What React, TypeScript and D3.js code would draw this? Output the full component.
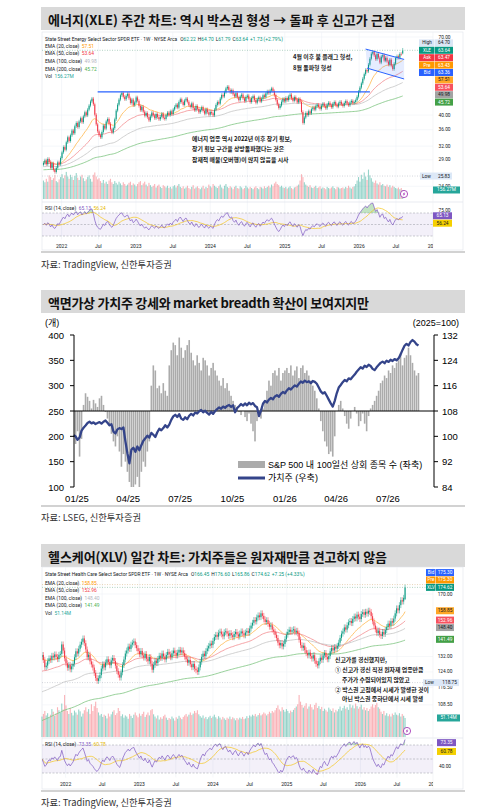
import React from "react";
import * as d3 from "d3";

// ================= Panel 1: XLE weekly =================
const xleClose = [
  28.4, 28.9, 28.1, 29.2, 28.6, 27.4, 28.3, 27.0, 26.6, 27.4,
  28.5, 28.1, 29.4, 30.6, 31.8, 31.2, 32.9, 34.1, 33.2, 34.6,
  35.8, 35.1, 36.9, 37.8, 36.7, 38.2, 39.1, 38.0, 39.6, 40.8,
  39.9, 41.6, 42.8, 44.1, 45.0, 43.2, 40.1, 37.4, 35.6, 34.6,
  34.1, 35.4, 37.1, 36.3, 38.2, 38.9, 37.6, 36.1, 35.3, 36.4,
  38.8, 41.3, 43.1, 44.7, 46.1, 46.9, 45.6, 44.8, 45.9, 46.6,
  45.1, 43.6, 44.7, 42.9, 43.8, 45.4, 44.3, 42.7, 41.4, 42.5,
  41.0, 39.8, 40.6, 39.4, 38.5, 39.6, 40.7, 39.9, 39.1, 40.3,
  39.4, 38.8, 39.5, 40.4, 39.2, 38.9, 39.9, 40.7, 40.0, 41.1,
  40.3, 41.6, 42.4, 43.1, 42.2, 43.9, 44.8, 43.9, 43.0, 44.4,
  45.0, 44.0, 42.9, 42.4, 43.5, 42.0, 41.4, 42.7, 41.8, 40.8,
  41.5, 42.3, 41.2, 40.4, 41.7, 40.8, 40.1, 40.9, 40.5, 39.9,
  41.6, 43.0, 43.9, 43.4, 45.0, 46.2, 45.7, 47.1, 48.4, 49.0,
  47.9, 47.1, 47.8, 46.4, 45.7, 46.8, 45.4, 44.5, 45.7, 46.3,
  45.1, 44.2, 45.5, 46.0, 44.8, 43.9, 45.2, 45.8, 44.5, 43.7,
  44.8, 45.4, 44.1, 45.0, 46.1, 45.5, 46.7, 47.4, 46.8, 47.7,
  48.4, 47.5, 46.1, 44.6, 43.2, 42.1, 42.8, 44.0, 44.9, 44.1,
  45.2, 44.5, 45.7, 46.3, 45.1, 44.3, 45.5, 44.7, 43.8, 44.9,
  44.0, 40.9, 37.8, 39.3, 40.6, 40.0, 41.1, 40.5, 41.7, 42.2,
  41.6, 42.6, 43.1, 42.4, 41.8, 42.8, 43.4, 42.6, 42.0, 43.1,
  43.7, 42.9, 42.3, 43.4, 43.9, 43.0, 42.5, 43.5, 44.0, 43.2,
  42.7, 43.6, 44.2, 43.4, 42.9, 43.8, 44.3, 43.6, 43.9, 44.5,
  45.6, 47.3, 48.7, 50.2, 51.9, 53.6, 55.3, 54.7, 57.4, 59.9,
  62.1, 62.9, 61.4, 59.7, 62.0, 60.4, 58.3, 60.8, 61.5, 59.1,
  60.3, 58.7, 57.4, 59.5, 57.0, 55.6, 57.8, 60.2, 61.0, 60.3,
  62.0, 61.9, 63.64,
];
const xleVolume = [
  320, 290, 350, 300, 410, 380, 330, 360, 420, 310,
  290, 340, 380, 430, 360, 410, 470, 390, 350, 420,
  380, 330, 400, 450, 370, 330, 390, 420, 360, 310,
  340, 380, 410, 350, 300, 420, 460, 390, 340, 360,
  310, 280, 330, 270, 300, 260, 320, 350, 290, 260,
  310, 280, 250, 300, 270, 240, 290, 260, 230, 250,
  280, 300, 240, 270, 250, 220, 260, 290, 310, 240,
  270, 300, 250, 220, 280, 240, 210, 230, 260, 200,
  230, 250, 210, 190, 240, 220, 200, 230, 190, 210,
  180, 220, 240, 200, 230, 260, 210, 190, 220, 180,
  200, 230, 190, 170, 210, 240, 180, 200, 220, 190,
  170, 200, 230, 180, 210, 190, 250, 220, 200, 260,
  230, 210, 190, 220, 250, 200, 180, 230, 260, 210,
  190, 220, 200, 170, 210, 230, 190, 180, 220, 200,
  170, 190, 230, 200, 180, 210, 190, 170, 200, 220,
  190, 170, 210, 200, 180, 220, 190, 210, 230, 200,
  250, 220, 270, 300, 260, 240, 210, 230, 200, 190,
  210, 180, 200, 220, 190, 170, 200, 210, 230, 250,
  320, 430, 380, 290, 250, 230, 210, 240, 200, 190,
  210, 230, 190, 200, 220, 180, 200, 190, 170, 210,
  190, 180, 200, 220, 190, 170, 210, 200, 180, 190,
  200, 180, 210, 190, 230, 200, 180, 210, 220, 260,
  320, 380, 300, 420, 350, 460, 390, 330, 510, 410,
  360, 300, 280, 320, 270, 250, 290, 240, 260, 230,
  220, 250, 210, 240, 200, 230, 210, 190, 180, 200,
  170, 190, 156.27,
];
const xleOpen0 = [28.0];
const xleLastOHLC = [62.22, 64.7, 61.79, 63.64];
const xleChange = [1.73, 2.79];
const xleEmaSeed = [28.6, 28.2, 27.6, 27.0];
const xleEmaLast = [57.51, 53.64, 49.98, 45.72];
const xleQuoteNames = ["High", "XLE", "Ask", "Pre", "Bid"];
const xleQuoteValues = [64.7, 63.64, 63.47, 63.43, 63.36];
const xleLow = [25.83];
const xleVolLast = [156.27];
const xleRsiLast = [65.13, 56.24];
const xlePriceTicks = [70, 40, 36, 32, 29, 24];
const xleRsiTicks = [75];
const xleBoxLine: [string, number][] = [["2022-06-27", 47.2], ["2026-02-23", 47.2]];
const xleFlagUpper: [string, number][] = [["2026-02-02", 64.2], ["2026-08-10", 59.6]];
const xleFlagLower: [string, number][] = [["2026-02-09", 56.0], ["2026-08-10", 51.8]];

// ================= Panel 2: breadth vs value =================
const breadthCount = [
  200, 185, 210, 160, 195, 262, 285, 278, 270, 255,
  272, 265, 258, 275, 280, 262, 248, 235, 220, 205,
  190, 180, 200, 170, 140, 165, 150, 130, 110, 100,
  100, 105, 120, 100, 130, 150, 140, 170, 190, 300,
  340, 330, 295, 300, 285, 305, 290, 280, 340, 370,
  385, 380, 360, 395, 375, 355, 370, 380, 390, 365,
  350, 340, 360, 345, 330, 355, 350, 340, 320, 335,
  345, 330, 320, 310, 300, 315, 295, 305, 290, 280,
  270, 262, 255, 248, 242, 250, 238, 230, 245, 225,
  210, 190, 230, 240, 235, 255, 270, 290, 310, 300,
  325, 330, 320, 335, 310, 325, 330, 335, 325, 340,
  320, 330, 338, 315, 335, 340, 325, 330, 320, 310,
  300, 290, 275, 255, 230, 210, 190, 180, 165, 170,
  160, 200, 250, 262, 270, 255, 240, 225, 215, 235,
  250, 258, 245, 220, 230, 245, 225, 210, 240, 255,
  262, 270, 280, 290, 305, 310, 320, 315, 330, 325,
  340, 335, 345, 350, 365, 340, 355, 360, 375, 360,
  345, 330, 320, 325,
];
const valueIndex = [
  100.3, 100.0, 98.9, 99.6, 101.8, 102.7, 103.4, 104.2, 104.6, 104.1,
  104.4, 103.9, 104.2, 104.5, 104.0, 104.6, 105.0, 104.3, 103.5, 103.8,
  101.5, 100.9, 102.2, 102.6, 102.3, 102.8, 98.4, 94.6, 91.5, 95.8,
  96.4, 95.1, 96.8, 95.6, 97.2, 98.6, 99.4, 100.2, 99.6, 101.1,
  100.5, 99.8, 101.3, 102.4, 101.9, 102.6, 103.5, 102.8, 103.7, 105.2,
  106.3, 106.8, 106.1, 107.0, 105.6, 105.2, 106.0, 105.4, 106.5, 107.1,
  106.6, 107.5, 107.2, 107.9, 108.3, 107.6, 108.1, 107.4, 106.9, 107.7,
  107.1, 108.0, 108.6, 109.1, 108.7, 109.4, 109.0, 109.6, 109.9, 109.3,
  109.8, 107.6, 108.9, 109.5, 110.2, 109.7, 110.4, 109.8, 110.6, 110.1,
  110.5, 109.6, 109.2, 106.4, 108.1, 110.3, 111.2, 110.7, 111.6, 112.1,
  111.7, 112.6, 113.0, 112.5, 113.4, 114.0, 113.6, 114.5, 115.2, 114.8,
  115.5, 116.1, 115.7, 116.6, 117.3, 116.9, 117.6, 117.1, 117.4, 116.8,
  117.5, 117.2, 116.6, 115.4, 114.2, 113.5, 113.9, 112.8, 111.6, 110.4,
  109.4, 111.2, 113.6, 115.4, 116.2, 117.1, 117.8, 117.4, 118.3, 118.0,
  118.8, 119.5, 120.4, 121.1, 121.8, 121.4, 122.3, 121.9, 122.6, 122.2,
  121.3, 120.9, 121.8, 122.5, 123.2, 123.6, 123.1, 123.9, 123.5, 124.2,
  123.8, 124.4, 124.0, 124.6, 125.8, 127.3, 128.6, 129.2, 128.7, 129.8,
  130.4, 129.9, 129.1, 128.7,
];
const breadthTicksL = [100, 150, 200, 250, 300, 350, 400];
const breadthTicksR = [84, 92, 100, 108, 116, 124, 132];

// ================= Panel 3: XLV weekly =================
const xlvClose = [
  132.8, 130.1, 126.4, 127.2, 129.5, 131.0, 130.2, 132.4, 131.5, 133.1,
  131.8, 130.6, 132.9, 133.4, 138.6, 135.2, 131.0, 128.4, 126.1, 127.5,
  125.3, 126.8, 128.2, 131.6, 134.8, 133.6, 136.2, 138.5, 140.1, 142.0,
  139.3, 135.8, 131.6, 133.0, 129.4, 127.8, 126.2, 123.5, 121.0, 119.6,
  120.8, 122.4, 125.7, 127.9, 126.3, 128.8, 130.5, 129.1, 127.4, 129.9,
  131.2, 129.6, 127.2, 124.4, 122.6, 121.2, 123.8, 127.5, 130.4, 133.6,
  135.2, 137.4, 136.1, 138.5, 139.6, 140.3, 138.2, 136.5, 134.9, 133.2,
  135.0, 132.6, 131.4, 133.3, 130.8, 129.5, 131.7, 128.2, 125.1, 127.6,
  129.8, 128.5, 130.7, 132.4, 131.2, 133.6, 132.0, 130.4, 132.8, 134.5,
  133.1, 131.6, 133.7, 135.2, 133.9, 132.5, 134.1, 135.6, 134.2, 135.3,
  133.8, 131.9, 130.5, 128.7, 130.2, 127.9, 126.4, 128.1, 125.6, 124.8,
  124.0, 126.3, 129.2, 131.8, 133.5, 132.2, 134.9, 136.4, 137.8, 139.1,
  138.2, 140.6, 142.8, 144.1, 143.0, 145.3, 146.0, 144.4, 143.2, 145.6,
  146.2, 144.8, 143.5, 145.1, 143.9, 142.7, 144.6, 145.8, 144.3, 143.1,
  144.9, 146.1, 145.0, 143.8, 145.5, 146.4, 145.2, 147.8, 149.6, 151.3,
  153.0, 152.1, 154.6, 155.9, 154.8, 157.2, 155.6, 153.4, 151.8, 152.9,
  150.7, 148.9, 149.8, 147.2, 146.0, 144.1, 142.3, 139.6, 138.1, 139.4,
  137.5, 138.9, 141.6, 144.2, 145.8, 147.1, 145.9, 146.8, 147.4, 145.6,
  146.5, 144.9, 141.3, 138.2, 136.7, 137.9, 135.4, 133.8, 132.6, 134.1,
  132.2, 130.9, 132.7, 129.8, 128.1, 127.3, 129.5, 131.4, 130.2, 132.6,
  133.9, 131.7, 130.5, 132.2, 134.8, 136.6, 135.3, 137.1, 136.2, 137.8,
  139.6, 142.3, 144.8, 146.1, 148.5, 147.2, 149.8, 151.6, 152.4, 151.1,
  153.7, 155.2, 154.0, 156.4, 155.1, 153.6, 156.8, 157.9, 156.3, 158.2,
  157.0, 158.9, 158.1, 155.4, 152.2, 149.6, 147.3, 145.1, 146.6, 144.2,
  143.4, 145.8, 144.6, 146.9, 148.7, 150.8, 149.5, 152.3, 151.4, 153.9,
  157.2, 160.4, 159.1, 162.5, 165.8, 164.9, 167.4, 174.62,
];
const xlvVolume = [
  55, 62, 70, 58, 64, 52, 60, 75, 68, 57,
  63, 80, 72, 66, 90, 74, 113, 85, 70, 62,
  78, 65, 58, 71, 66, 60, 74, 69, 55, 63,
  72, 80, 68, 75, 62, 88, 70, 83, 95, 78,
  66, 58, 62, 54, 60, 57, 50, 63, 55, 61,
  68, 72, 59, 64, 78, 70, 56, 61, 52, 58,
  55, 49, 62, 57, 51, 60, 66, 58, 53, 63,
  57, 62, 68, 54, 60, 66, 58, 72, 75, 61,
  55, 50, 58, 47, 53, 49, 56, 60, 52, 46,
  51, 48, 55, 50, 44, 53, 49, 57, 52, 48,
  54, 58, 62, 55, 60, 66, 59, 63, 70, 65,
  72, 61, 56, 52, 58, 50, 54, 48, 53, 57,
  51, 55, 60, 53, 49, 56, 52, 47, 54, 50,
  46, 52, 49, 55, 48, 53, 50, 45, 51, 47,
  52, 49, 54, 48, 50, 56, 51, 58, 55, 60,
  57, 62, 55, 59, 64, 58, 61, 66, 63, 58,
  62, 68, 64, 70, 66, 72, 78, 85, 74, 69,
  80, 73, 68, 75, 70, 64, 71, 67, 73, 78,
  82, 88, 113, 95, 86, 79, 84, 91, 76, 82,
  88, 80, 74, 86, 92, 78, 83, 75, 81, 70,
  76, 72, 68, 79, 74, 70, 77, 66, 73, 69,
  75, 82, 71, 78, 84, 76, 80, 73, 88, 79,
  85, 77, 90, 83, 76, 81, 87, 74, 80, 72,
  78, 70, 75, 82, 88, 79, 86, 92, 80, 76,
  68, 62, 70, 58, 64, 56, 61, 55, 63, 59,
  66, 60, 58, 64, 55, 62, 57, 51.14,
];
const xlvOpen0 = [131.5];
const xlvLastOHLC = [166.45, 176.6, 165.86, 174.62];
const xlvChange = [7.25, 4.33];
const xlvEmaSeed = [130.5, 124.0, 114.0, 101.5];
const xlvEmaLast = [158.85, 152.96, 148.4, 141.49];
const xlvQuoteNames = ["Bid", "Pre", "XLV"];
const xlvQuoteValues = [175.3, 175.3, 174.62];
const xlvLow = [118.75];
const xlvVolLast = [51.14];
const xlvRsiLast = [73.35, 60.78];
const xlvPriceTicks = [170, 132, 124, 116.5, 108.5];
const xlvRsiTicks = [40];

// ================= helpers =================
const KR = "'Noto Sans CJK KR', 'Noto Sans', sans-serif";
const TVF = "Roboto, 'Liberation Sans', Arial, sans-serif";
const AR = "'Liberation Sans', Arial, 'Noto Sans CJK KR', sans-serif";
const UP = "#089981";
const DN = "#f23645";
const WICK = 0.012;
const EMA_PERIODS = [20, 50, 100, 200];
const EMA_LINE = ["#ffb74d", "#f28b8f", "#c4c4c4", "#7cc47f"];
const EMA_TEXT = ["#ff9800", "#f23645", "#b2b5be", "#4caf50"];
const EMA_BOX = ["#ffa726", "#f7525f", "#a3a3a3", "#43a047"];
const EMA_BOX_TEXT = ["#131722", "#ffffff", "#131722", "#ffffff"];
const QUOTE_BOX: Record<string, string> = { High: "#dbe6f5", XLE: UP, XLV: UP, Ask: DN, Pre: "#ff9800", Bid: "#2962ff" };

const parse = d3.timeParse("%Y-%m-%d");
const P = (s: string) => parse(s) as Date;

function emaSeries(v: number[], period: number, seed: number) {
  const a = 2 / (period + 1);
  let e = seed;
  return v.map((d) => (e += a * (d - e)));
}
function calcRSI(c: number[], n = 14) {
  const ch = c.slice(1).map((v, i) => v - c[i]);
  const init = (d3.mean(ch.slice(0, n), (d) => Math.abs(d)) as number) / 2;
  let ag = init, al = init;
  const out = [50];
  ch.forEach((d) => {
    ag = (ag * (n - 1) + Math.max(d, 0)) / n;
    al = (al * (n - 1) + Math.max(-d, 0)) / n;
    out.push(100 - 100 / (1 + ag / al));
  });
  return out;
}
function sma(a: number[], n: number) {
  return a.map((_, i) => d3.mean(a.slice(Math.max(0, i - n + 1), i + 1)) as number);
}
function stackTags(ideal: number[], anchor: number, h: number) {
  const out = ideal.slice();
  for (let i = anchor - 1; i >= 0; i--) out[i] = Math.min(ideal[i], out[i + 1] - h);
  for (let i = anchor + 1; i < ideal.length; i++) out[i] = Math.max(ideal[i], out[i - 1] + h);
  return out;
}

function Bolt({ cx, cy }: { cx: number; cy: number }) {
  return (
    <g transform={`translate(${cx},${cy})`}>
      <circle r={3.6} fill="#fff" stroke="#9c27b0" strokeWidth={0.8} />
      <path d="M0.6,-2.3 L-1.3,0.4 L0,0.4 L-0.6,2.3 L1.3,-0.4 L0,-0.4 Z" fill="#9c27b0" />
    </g>
  );
}

function TVChart(p: any) {
  const n = p.closes.length;
  const endD = P(p.end);
  const dates = d3.range(n).map((i) => d3.timeDay.offset(endD, -7 * (n - 1 - i)));
  const x = d3.scaleTime().domain([P(p.cal[0]), P(p.cal[2])]).range([p.cal[1], p.cal[3]]);
  const y = d3.scaleLog().domain(p.pDom).range(p.pRange);
  const yv = d3.scaleLinear().domain([0, p.volMax]).range([p.volBase, p.volBase - p.volH]);
  const yr = d3.scaleLinear().domain([30, 70]).range([p.rsi30, p.rsi70]);
  const [fx0, fy0, fx1, fy1] = p.frame;
  const plotR = p.plotR;

  const candles = p.closes.map((c: number, i: number) => {
    if (i === n - 1) return { o: p.ohlc[0], h: p.ohlc[1], l: p.ohlc[2], c: p.ohlc[3] };
    const o = i === 0 ? p.open0[0] : p.closes[i - 1];
    return { o, c, h: Math.max(o, c) * (1 + WICK), l: Math.min(o, c) * (1 - WICK) };
  });
  const emas = EMA_PERIODS.map((per, k) => emaSeries(p.closes, per, p.emaSeed[k]));
  const rsi = calcRSI(p.closes);
  const rsiMa = sma(rsi, 14);
  const lineP = d3.line<number>().x((_, i) => x(dates[i])).y((v) => y(v));
  const lineR = d3.line<number>().x((_, i) => x(dates[i])).y((v) => yr(v));
  const areaOB = d3.area<number>().x((_, i) => x(dates[i])).y0(yr(70)).y1((v) => yr(Math.max(v, 70)));
  const areaOS = d3.area<number>().x((_, i) => x(dates[i])).y0(yr(30)).y1((v) => yr(Math.min(v, 30)));

  const ticks: { d: Date; t: string }[] = [];
  for (let yy = 2022; yy <= 2027; yy++) {
    ticks.push({ d: new Date(yy, 0, 1), t: String(yy) });
    if (yy < 2027) ticks.push({ d: new Date(yy, 6, 1), t: "Jul" });
  }

  const tagVals = [...p.qValues, ...p.emaLast];
  const tagY = stackTags(tagVals.map((v: number) => y(v)), p.anchor, 7.4);
  const nq = p.qValues.length;
  const fmt = (v: number) => v.toFixed(2);
  const id = p.id;
  const cw = 1.0;

  return (
    <g>
      <defs>
        <clipPath id={`pc-${id}`}><rect x={fx0} y={fy0} width={plotR - fx0} height={p.sep - fy0} /></clipPath>
        <clipPath id={`rc-${id}`}><rect x={fx0} y={p.sep} width={plotR - fx0} height={p.axisY - 6 - p.sep} /></clipPath>
        <clipPath id={`ac-${id}`}><rect x={fx0} y={p.axisY - 6} width={plotR - fx0} height={12} /></clipPath>
      </defs>
      <rect x={fx0} y={fy0} width={fx1 - fx0} height={fy1 - fy0} fill="#fff" stroke="#e0e3eb" strokeWidth={0.6} />
      {/* grid */}
      {ticks.map((t, i) => (
        <line key={i} x1={x(t.d)} x2={x(t.d)} y1={fy0} y2={p.axisY - 6} stroke="#f0f3fa" strokeWidth={0.6} clipPath={`url(#ac-${id})`} />
      ))}
      <g clipPath={`url(#pc-${id})`}>
        {ticks.map((t, i) => (
          <line key={i} x1={x(t.d)} x2={x(t.d)} y1={fy0} y2={p.sep} stroke="#eef1f6" strokeWidth={0.6} />
        ))}
        {p.pTicks.map((t: number, i: number) => (
          <line key={i} x1={fx0} x2={plotR} y1={y(t)} y2={y(t)} stroke="#eef1f6" strokeWidth={0.6} />
        ))}
      </g>
      <g clipPath={`url(#rc-${id})`}>
        {ticks.map((t, i) => (
          <line key={i} x1={x(t.d)} x2={x(t.d)} y1={p.sep} y2={p.axisY - 6} stroke="#eef1f6" strokeWidth={0.6} />
        ))}
      </g>
      {/* volume */}
      {p.vols.map((v: number, i: number) => (
        <rect key={i} x={x(dates[i]) - 0.55} width={1.1} y={yv(v)} height={p.volBase - yv(v)}
          fill={candles[i].c >= candles[i].o ? "rgba(8,153,129,0.42)" : "rgba(242,54,69,0.38)"} />
      ))}
      <g clipPath={`url(#pc-${id})`}>
        {p.children}
        {/* EMAs */}
        {emas.map((e, k) => (
          <path key={k} d={lineP(e) || ""} fill="none" stroke={EMA_LINE[k]} strokeWidth={0.8} />
        ))}
        {/* candles */}
        {candles.map((c: any, i: number) => {
          const cx = x(dates[i]);
          const col = c.c >= c.o ? UP : DN;
          const top = y(Math.max(c.o, c.c));
          const bot = y(Math.min(c.o, c.c));
          return (
            <g key={i}>
              <line x1={cx} x2={cx} y1={y(c.h)} y2={y(c.l)} stroke={col} strokeWidth={0.5} />
              <rect x={cx - cw / 2} width={cw} y={top} height={Math.max(0.6, bot - top)} fill={col} />
            </g>
          );
        })}
        {/* current price lines */}
        <line x1={fx0} x2={plotR} y1={y(p.ohlc[3])} y2={y(p.ohlc[3])} stroke="#7fb59a" strokeWidth={0.6} strokeDasharray="1 1.5" />
        {p.extraLine && (
          <line x1={fx0} x2={plotR} y1={y(p.extraLine[0])} y2={y(p.extraLine[0])} stroke="#d6b98a" strokeWidth={0.6} strokeDasharray="1 1.5" />
        )}
        <line x1={fx0} x2={plotR} y1={y(p.low[0])} y2={y(p.low[0])} stroke="#b8bcc6" strokeWidth={0.6} strokeDasharray="1 1.5" />
        {p.overlay && p.overlay(x, y)}
      </g>
      {/* header & legend */}
      <text x={fx0 + 3} y={p.headerY} fontSize={4.9} fontFamily={TVF} fill="#131722" dominantBaseline="central">
        {p.title}
        <tspan dx={3}>O</tspan><tspan fill={UP}>{fmt(p.ohlc[0])}</tspan>
        <tspan dx={2}>H</tspan><tspan fill={UP}>{fmt(p.ohlc[1])}</tspan>
        <tspan dx={2}>L</tspan><tspan fill={UP}>{fmt(p.ohlc[2])}</tspan>
        <tspan dx={2}>C</tspan><tspan fill={UP}>{fmt(p.ohlc[3])}</tspan>
        <tspan dx={2} fill={UP}>{`+${fmt(p.change[0])} (+${fmt(p.change[1])}%)`}</tspan>
      </text>
      {EMA_PERIODS.map((per, k) => (
        <text key={k} x={fx0 + 3} y={p.legendY + k * p.legendStep} fontSize={4.9} fontFamily={TVF} fill="#131722" dominantBaseline="central">
          {`EMA (${per}, close)`}<tspan dx={2.5} fill={EMA_TEXT[k]}>{fmt(p.emaLast[k])}</tspan>
        </text>
      ))}
      <text x={fx0 + 3} y={p.legendY + 4 * p.legendStep} fontSize={4.9} fontFamily={TVF} fill="#131722" dominantBaseline="central">
        Vol<tspan dx={2.5} fill="#26a69a">{`${p.volLast[0].toFixed(2)}M`}</tspan>
      </text>
      {/* pane separators */}
      <line x1={fx0} x2={fx1} y1={p.sep} y2={p.sep} stroke="#e0e3eb" strokeWidth={0.7} />
      <line x1={plotR} x2={plotR} y1={fy0} y2={fy1} stroke="#eef0f4" strokeWidth={0.6} />
      {/* RSI */}
      <rect x={fx0} y={yr(70)} width={plotR - fx0} height={yr(30) - yr(70)} fill="rgba(126,87,194,0.09)" />
      {[70, 50, 30].map((v) => (
        <line key={v} x1={fx0} x2={plotR} y1={yr(v)} y2={yr(v)} stroke="#9598a1" strokeWidth={0.5} strokeDasharray="2 1.5" />
      ))}
      <g clipPath={`url(#rc-${id})`}>
        <path d={areaOB(rsi) || ""} fill="rgba(76,175,80,0.35)" />
        <path d={areaOS(rsi) || ""} fill="rgba(242,54,69,0.3)" />
        <path d={lineR(rsiMa) || ""} fill="none" stroke="#f5c518" strokeWidth={0.7} />
        <path d={lineR(rsi) || ""} fill="none" stroke="#7e57c2" strokeWidth={0.7} />
      </g>
      <text x={fx0 + 3} y={p.rsiLabelY} fontSize={4.9} fontFamily={TVF} fill="#131722" dominantBaseline="central">
        RSI (14, close)<tspan dx={2.5} fill="#7e57c2">{fmt(p.rsiLast[0])}</tspan><tspan dx={2.5} fill="#e6b800">{fmt(p.rsiLast[1])}</tspan>
      </text>
      {p.rsiTicks.map((t: number) => (
        <text key={t} x={p.axisX} y={yr(t)} fontSize={4.8} fontFamily={TVF} fill="#131722" textAnchor="middle" dominantBaseline="central">{fmt(t)}</text>
      ))}
      {/* time axis */}
      <g clipPath={`url(#ac-${id})`}>
        {ticks.map((t, i) => (
          <text key={i} x={x(t.d)} y={p.axisY} fontSize={5} fontFamily={TVF} fill="#131722" textAnchor="middle" dominantBaseline="central">{t.t}</text>
        ))}
      </g>
      {/* price axis labels */}
      {p.pTicks.map((t: number) => (
        <text key={t} x={p.axisX} y={y(t)} fontSize={4.8} fontFamily={TVF} fill="#131722" textAnchor="middle" dominantBaseline="central">{fmt(t)}</text>
      ))}
      {/* low label */}
      <rect x={p.lowX[0]} y={y(p.low[0]) - 3.5} width={p.lowX[1] - p.lowX[0]} height={7} fill="#dde8f7" />
      <text x={p.lowX[0] + 2} y={y(p.low[0])} fontSize={4.8} fontFamily={TVF} fill="#131722" dominantBaseline="central">Low</text>
      <text x={p.lowX[1] - 2} y={y(p.low[0])} fontSize={4.8} fontFamily={TVF} fill="#131722" textAnchor="end" dominantBaseline="central">{fmt(p.low[0])}</text>
      {/* quote tags + EMA tags */}
      {tagVals.map((v: number, i: number) => {
        const ty = tagY[i];
        if (i < nq) {
          const name = p.qNames[i];
          const bg = QUOTE_BOX[name];
          const tc = name === "High" ? "#131722" : "#fff";
          return (
            <g key={i}>
              <rect x={p.nameX[0]} y={ty - 3.5} width={p.nameX[1] - p.nameX[0] - 0.5} height={7} fill={bg} />
              <text x={(p.nameX[0] + p.nameX[1]) / 2} y={ty} fontSize={4.6} fontFamily={TVF} fill={tc} textAnchor="middle" dominantBaseline="central">{name}</text>
              <rect x={p.valX[0]} y={ty - 3.5} width={p.valX[1] - p.valX[0]} height={7} fill={bg} />
              <text x={(p.valX[0] + p.valX[1]) / 2} y={ty} fontSize={4.8} fontFamily={TVF} fill={tc} textAnchor="middle" dominantBaseline="central">{fmt(v)}</text>
            </g>
          );
        }
        const k = i - nq;
        return (
          <g key={i}>
            <rect x={p.valX[0]} y={ty - 3.5} width={p.valX[1] - p.valX[0]} height={7} fill={EMA_BOX[k]} />
            <text x={(p.valX[0] + p.valX[1]) / 2} y={ty} fontSize={4.8} fontFamily={TVF} fill={EMA_BOX_TEXT[k]} textAnchor="middle" dominantBaseline="central">{fmt(v)}</text>
          </g>
        );
      })}
      {/* volume tag */}
      <rect x={p.volTagX[0]} y={yv(p.volLast[0]) - 3.5} width={p.volTagX[1] - p.volTagX[0]} height={7} fill="#26a69a" />
      <text x={(p.volTagX[0] + p.volTagX[1]) / 2} y={yv(p.volLast[0])} fontSize={4.8} fontFamily={TVF} fill="#fff" textAnchor="middle" dominantBaseline="central">{`${p.volLast[0].toFixed(2)}M`}</text>
      {/* RSI tags */}
      {(() => {
        const ry = stackTags(p.rsiLast.map((v: number) => yr(v)), 0, 7.4);
        return p.rsiLast.map((v: number, i: number) => (
          <g key={i}>
            <rect x={p.rsiTagX[0]} y={ry[i] - 3.5} width={p.rsiTagX[1] - p.rsiTagX[0]} height={7} fill={i === 0 ? "#7e57c2" : "#f5d000"} />
            <text x={(p.rsiTagX[0] + p.rsiTagX[1]) / 2} y={ry[i]} fontSize={4.8} fontFamily={TVF} fill={i === 0 ? "#fff" : "#131722"} textAnchor="middle" dominantBaseline="central">{fmt(v)}</text>
          </g>
        ));
      })()}
      <Bolt cx={p.bolt[0]} cy={p.bolt[1]} />
      {p.notes}
    </g>
  );
}

function BreadthChart() {
  const start = P("2024-12-26");
  const dates = breadthCount.map((_, i) => new Date(+start + i * 3.5 * 864e5));
  const x = d3.scaleTime().domain([P("2025-01-01"), P("2026-07-01")]).range([77, 388]);
  const yL = d3.scaleLinear().domain([100, 400]).range([487, 335]).clamp(true);
  const yR = d3.scaleLinear().domain([84, 132]).range([487, 335]);
  const base = yL(250);
  const line = d3.line<number>().x((_, i) => x(dates[i])).y((v) => yR(v));
  const months = (d3.timeMonth.every(3) as any).range(P("2025-01-01"), P("2026-08-01"));
  const fmtM = d3.timeFormat("%m/%y");
  return (
    <g>
      <defs>
        <clipPath id="bc"><rect x={74} y={330} width={360} height={158} /></clipPath>
      </defs>
      <text x={45} y={323} fontSize={9} fontFamily={AR} fill="#000" dominantBaseline="central">(개)</text>
      <text x={459} y={323} fontSize={9} fontFamily={AR} fill="#000" textAnchor="end" dominantBaseline="central">(2025=100)</text>
      <g clipPath="url(#bc)">
        {breadthCount.map((v, i) => (
          <rect key={i} x={x(dates[i]) - 0.8} width={1.6} y={Math.min(base, yL(v))} height={Math.abs(yL(v) - base)} fill="#ababab" />
        ))}
      </g>
      <line x1={74} x2={434} y1={base} y2={base} stroke="#000" strokeWidth={1} />
      <path d={line(valueIndex) || ""} fill="none" stroke="#34448a" strokeWidth={2.3} strokeLinejoin="round" />
      {/* axes */}
      <line x1={74} x2={74} y1={335} y2={487} stroke="#000" strokeWidth={1} />
      <line x1={434} x2={434} y1={335} y2={487} stroke="#000" strokeWidth={1} />
      {breadthTicksL.map((t) => (
        <g key={t}>
          <line x1={70} x2={74} y1={yL(t)} y2={yL(t)} stroke="#000" strokeWidth={1} />
          <text x={64} y={yL(t)} fontSize={9.5} fontFamily={AR} fill="#000" textAnchor="end" dominantBaseline="central">{t}</text>
        </g>
      ))}
      {breadthTicksR.map((t) => (
        <g key={t}>
          <line x1={434} x2={438} y1={yR(t)} y2={yR(t)} stroke="#000" strokeWidth={1} />
          <text x={442} y={yR(t)} fontSize={9.5} fontFamily={AR} fill="#000" dominantBaseline="central">{t}</text>
        </g>
      ))}
      {months.map((m: Date, i: number) => (
        <text key={i} x={x(m)} y={498} fontSize={9.5} fontFamily={AR} fill="#000" textAnchor="middle" dominantBaseline="central">{fmtM(m)}</text>
      ))}
      {/* legend */}
      <rect x={238} y={461} width={27} height={7} fill="#ababab" />
      <text x={268} y={464.5} fontSize={9} fontFamily={AR} fill="#000" dominantBaseline="central">S&amp;P 500 내 100일선 상회 종목 수 (좌축)</text>
      <line x1={238} x2={265} y1={478} y2={478} stroke="#34448a" strokeWidth={3} />
      <text x={268} y={478} fontSize={9} fontFamily={AR} fill="#000" dominantBaseline="central">가치주 (우축)</text>
    </g>
  );
}

function TitleBar({ y, text, width }: { y: number; text: string; width: number }) {
  return (
    <g>
      <rect x={41} y={y} width={424} height={23} fill="#d9d9d9" />
      <text x={48} y={y + 12} fontSize={13} fontWeight={700} fontFamily={KR} fill="#111" dominantBaseline="central"
        textLength={width} lengthAdjust="spacing">{text}</text>
    </g>
  );
}

const noteStyle = { fontSize: 5.9, fontWeight: 700, fontFamily: KR, fill: "#1a1a1a" } as any;

export default function App() {
  const xleOverlay = (x: any, y: any) => {
    const pt = (d: [string, number]) => [x(P(d[0])), y(d[1])];
    const u0 = pt(xleFlagUpper[0]), u1 = pt(xleFlagUpper[1]);
    const l0 = pt(xleFlagLower[0]), l1 = pt(xleFlagLower[1]);
    const b0 = pt(xleBoxLine[0]), b1 = pt(xleBoxLine[1]);
    return (
      <g>
        <polygon points={`${u0} ${u1} ${l1} ${l0}`} fill="rgba(41,98,255,0.12)" />
        <line x1={u0[0]} y1={u0[1]} x2={u1[0]} y2={u1[1]} stroke="#2962ff" strokeWidth={1} />
        <line x1={l0[0]} y1={l0[1]} x2={l1[0]} y2={l1[1]} stroke="#2962ff" strokeWidth={1} />
        <line x1={b0[0]} y1={b0[1]} x2={b1[0]} y2={b1[1]} stroke="#2962ff" strokeWidth={1.3} />
      </g>
    );
  };
  return (
    <svg width={494} height={810} style={{ position: "absolute", left: 0, top: 0, background: "#fff" }}>
      <rect width={494} height={810} fill="#fff" />
      {/* ---------- Panel 1 ---------- */}
      <TitleBar y={7} width={347} text="에너지(XLE) 주간 차트: 역시 박스권 형성 → 돌파 후 신고가 근접" />
      <TVChart
        id="xle" closes={xleClose} vols={xleVolume} open0={xleOpen0} ohlc={xleLastOHLC} change={xleChange}
        end="2026-08-03" cal={["2022-01-03", 62, "2026-07-06", 397]}
        pDom={[29, 70]} pRange={[159.9, 37]} pTicks={xlePriceTicks}
        emaSeed={xleEmaSeed} emaLast={xleEmaLast} qNames={xleQuoteNames} qValues={xleQuoteValues} anchor={1}
        low={xleLow} volLast={xleVolLast} rsiLast={xleRsiLast} rsiTicks={xleRsiTicks}
        frame={[42, 32, 463, 250]} plotR={433} axisX={444.5}
        headerY={38.5} legendY={45.5} legendStep={7.7}
        volBase={199} volMax={520} volH={30} sep={202} rsi30={236} rsi70={213} rsiLabelY={207.5} axisY={245.5}
        nameX={[419, 435]} valX={[435, 453]} lowX={[420, 452]} volTagX={[433, 460]} rsiTagX={[433, 452]} bolt={[404, 194]}
        title="State Street Energy Select Sector SPDR ETF · 1W · NYSE Arca"
        overlay={xleOverlay}
        notes={
          <g>
            <text x={293} y={59} {...noteStyle}>4월 이후 불 플래그 형성,</text>
            <text x={293} y={69.5} {...noteStyle}>8월 돌파형 형성</text>
            <text x={192} y={140.5} {...noteStyle}>에너지 업종 역시 2022년 이후 장기 횡보,</text>
            <text x={192} y={151} {...noteStyle}>장기 횡보 구간을 상방돌파했다는 것은</text>
            <text x={192} y={161.5} {...noteStyle}>잠재적 매물(오버행)이 많지 않음을 시사</text>
          </g>
        }
      />
      <line x1={41} x2={465} y1={252} y2={252} stroke="#a6a6a6" strokeWidth={1.2} />
      <text x={41} y={264} fontSize={9.3} fontFamily={KR} fill="#333" dominantBaseline="central">자료: TradingView, 신한투자증권</text>

      {/* ---------- Panel 2 ---------- */}
      <TitleBar y={290} width={321} text="액면가상 가치주 강세와 market breadth 확산이 보여지지만" />
      <BreadthChart />
      <line x1={41} x2={465} y1={506} y2={506} stroke="#a6a6a6" strokeWidth={1.2} />
      <text x={41} y={517} fontSize={9.3} fontFamily={KR} fill="#333" dominantBaseline="central">자료: LSEG, 신한투자증권</text>

      {/* ---------- Panel 3 ---------- */}
      <TitleBar y={544} width={339} text="헬스케어(XLV) 일간 차트: 가치주들은 원자재만큼 견고하지 않음" />
      <TVChart
        id="xlv" closes={xlvClose} vols={xlvVolume} open0={xlvOpen0} ohlc={xlvLastOHLC} change={xlvChange}
        end="2026-08-10" cal={["2022-01-03", 66, "2026-07-06", 398]}
        pDom={[108.5, 170]} pRange={[704.9, 594]} pTicks={xlvPriceTicks}
        emaSeed={xlvEmaSeed} emaLast={xlvEmaLast} qNames={xlvQuoteNames} qValues={xlvQuoteValues} anchor={2}
        low={xlvLow} volLast={xlvVolLast} rsiLast={xlvRsiLast} rsiTicks={xlvRsiTicks} extraLine={[xlvLastOHLC[1]]}
        frame={[42, 567, 463, 789]} plotR={433} axisX={445}
        headerY={573.5} legendY={582.5} legendStep={7.5}
        volBase={737} volMax={121} volH={45} sep={738} rsi30={773} rsi70={745} rsiLabelY={744} axisY={783.5}
        nameX={[426, 436]} valX={[436, 454]} lowX={[423, 459]} volTagX={[437, 460]} rsiTagX={[437, 456]} bolt={[407, 731]}
        title="State Street Health Care Select Sector SPDR ETF · 1W · NYSE Arca"
        notes={
          <g>
            <text x={335} y={662} {...noteStyle}>신고가를 경신했지만,</text>
            <text x={335} y={672} {...noteStyle}>① 신고가 경신 직전 원자재 업종만큼</text>
            <text x={342} y={681.5} {...noteStyle}>주가가 수렴되어있지 않았고</text>
            <text x={335} y={691.5} {...noteStyle}>② 박스권 고점에서 시세가 발생한 것이</text>
            <text x={342} y={701} {...noteStyle}>아닌 박스권 중하단에서 시세 발생</text>
          </g>
        }
      />
      <line x1={41} x2={465} y1={791} y2={791} stroke="#a6a6a6" strokeWidth={1.2} />
      <text x={41} y={802} fontSize={9.3} fontFamily={KR} fill="#333" dominantBaseline="central">자료: TradingView, 신한투자증권</text>
    </svg>
  );
}
